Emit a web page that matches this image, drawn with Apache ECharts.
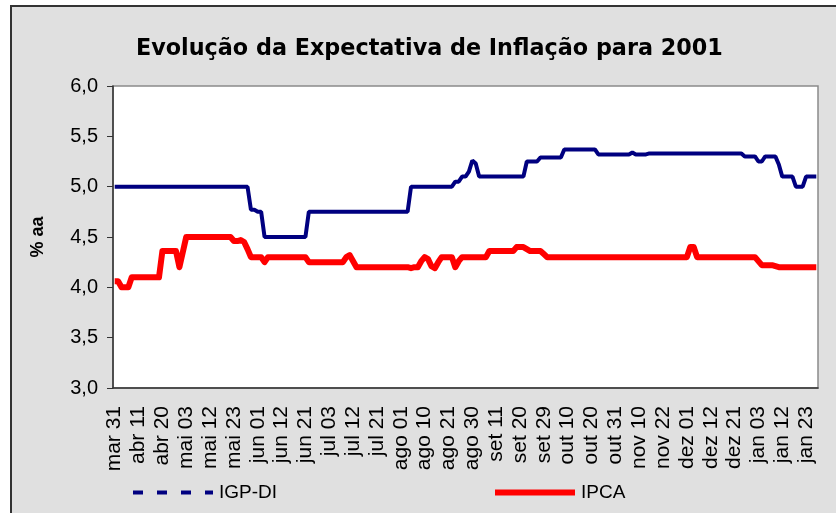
<!DOCTYPE html>
<html>
<head>
<meta charset="utf-8">
<title>Evolução da Expectativa de Inflação para 2001</title>
<script src="https://cdn.jsdelivr.net/npm/echarts@6/dist/echarts.min.js"></script>
<style>
  html, body { margin: 0; padding: 0; background: #fff; overflow: hidden; }
  #frame { position: absolute; left: 10px; top: 5px; width: 900px; height: 600px;
           background: #e0e0e0; border-left: 2px solid #333; border-top: 2px solid #333; }
  #chart { position: absolute; left: 0; top: 0; width: 836px; height: 513px; }
</style>
</head>
<body>
<div id="frame"></div>
<div id="chart"></div>
<script>
// one label every 7 business days, mar 31 2000 .. jan 26 2001 (207 points)
var tickLabels = ["mar 31", "abr 11", "abr 20", "mai 03", "mai 12", "mai 23", "jun 01", "jun 12",
  "jun 21", "jul 03", "jul 12", "jul 21", "ago 01", "ago 10", "ago 21", "ago 30", "set 11",
  "set 20", "set 29", "out 10", "out 20", "out 31", "nov 10", "nov 22", "dez 01", "dez 12",
  "dez 21", "jan 03", "jan 12", "jan 23"];
var pointCount = 207;

var igpdi = [
  5.0, 5.0, 5.0, 5.0, 5.0, 5.0, 5.0, 5.0, 5.0, 5.0,
  5.0, 5.0, 5.0, 5.0, 5.0, 5.0, 5.0, 5.0, 5.0, 5.0,
  5.0, 5.0, 5.0, 5.0, 5.0, 5.0, 5.0, 5.0, 5.0, 5.0,
  5.0, 5.0, 5.0, 5.0, 5.0, 5.0, 5.0, 5.0, 5.0, 5.0,
  4.77, 4.77, 4.75, 4.75, 4.5, 4.5, 4.5, 4.5, 4.5, 4.5,
  4.5, 4.5, 4.5, 4.5, 4.5, 4.5, 4.5, 4.75, 4.75, 4.75,
  4.75, 4.75, 4.75, 4.75, 4.75, 4.75, 4.75, 4.75, 4.75, 4.75,
  4.75, 4.75, 4.75, 4.75, 4.75, 4.75, 4.75, 4.75, 4.75, 4.75,
  4.75, 4.75, 4.75, 4.75, 4.75, 4.75, 4.75, 5.0, 5.0, 5.0,
  5.0, 5.0, 5.0, 5.0, 5.0, 5.0, 5.0, 5.0, 5.0, 5.0,
  5.05, 5.05, 5.1, 5.1, 5.15, 5.26, 5.23, 5.1, 5.1, 5.1,
  5.1, 5.1, 5.1, 5.1, 5.1, 5.1, 5.1, 5.1, 5.1, 5.1,
  5.1, 5.25, 5.25, 5.25, 5.25, 5.29, 5.29, 5.29, 5.29, 5.29,
  5.29, 5.29, 5.37, 5.37, 5.37, 5.37, 5.37, 5.37, 5.37, 5.37,
  5.37, 5.37, 5.32, 5.32, 5.32, 5.32, 5.32, 5.32, 5.32, 5.32,
  5.32, 5.32, 5.34, 5.32, 5.32, 5.32, 5.32, 5.33, 5.33, 5.33,
  5.33, 5.33, 5.33, 5.33, 5.33, 5.33, 5.33, 5.33, 5.33, 5.33,
  5.33, 5.33, 5.33, 5.33, 5.33, 5.33, 5.33, 5.33, 5.33, 5.33,
  5.33, 5.33, 5.33, 5.33, 5.33, 5.3, 5.3, 5.3, 5.3, 5.25,
  5.25, 5.3, 5.3, 5.3, 5.3, 5.22, 5.1, 5.1, 5.1, 5.1,
  5.0, 5.0, 5.0, 5.1, 5.1, 5.1, 5.1
];

var ipca = [
  4.06, 4.06, 4.0, 4.0, 4.0, 4.1, 4.1, 4.1, 4.1, 4.1,
  4.1, 4.1, 4.1, 4.1, 4.36, 4.36, 4.36, 4.36, 4.36, 4.2,
  4.35, 4.5, 4.5, 4.5, 4.5, 4.5, 4.5, 4.5, 4.5, 4.5,
  4.5, 4.5, 4.5, 4.5, 4.5, 4.46, 4.46, 4.47, 4.45, 4.38,
  4.3, 4.3, 4.3, 4.3, 4.25, 4.3, 4.3, 4.3, 4.3, 4.3,
  4.3, 4.3, 4.3, 4.3, 4.3, 4.3, 4.3, 4.25, 4.25, 4.25,
  4.25, 4.25, 4.25, 4.25, 4.25, 4.25, 4.25, 4.25, 4.3, 4.32,
  4.26, 4.2, 4.2, 4.2, 4.2, 4.2, 4.2, 4.2, 4.2, 4.2,
  4.2, 4.2, 4.2, 4.2, 4.2, 4.2, 4.2, 4.19, 4.2, 4.2,
  4.26, 4.3, 4.28, 4.21, 4.19, 4.25, 4.3, 4.3, 4.3, 4.3,
  4.2, 4.26, 4.3, 4.3, 4.3, 4.3, 4.3, 4.3, 4.3, 4.3,
  4.36, 4.36, 4.36, 4.36, 4.36, 4.36, 4.36, 4.36, 4.4, 4.4,
  4.4, 4.38, 4.36, 4.36, 4.36, 4.36, 4.33, 4.3, 4.3, 4.3,
  4.3, 4.3, 4.3, 4.3, 4.3, 4.3, 4.3, 4.3, 4.3, 4.3,
  4.3, 4.3, 4.3, 4.3, 4.3, 4.3, 4.3, 4.3, 4.3, 4.3,
  4.3, 4.3, 4.3, 4.3, 4.3, 4.3, 4.3, 4.3, 4.3, 4.3,
  4.3, 4.3, 4.3, 4.3, 4.3, 4.3, 4.3, 4.3, 4.3, 4.4,
  4.4, 4.3, 4.3, 4.3, 4.3, 4.3, 4.3, 4.3, 4.3, 4.3,
  4.3, 4.3, 4.3, 4.3, 4.3, 4.3, 4.3, 4.3, 4.3, 4.26,
  4.22, 4.22, 4.22, 4.22, 4.21, 4.2, 4.2, 4.2, 4.2, 4.2,
  4.2, 4.2, 4.2, 4.2, 4.2, 4.2, 4.2
];

// category axis: labelled day, then six unlabelled days
var categories = [];
tickLabels.forEach(function (l) {
  categories.push(l, "", "", "", "", "", "");
});
categories = categories.slice(0, pointCount);

var sans = "'Liberation Sans', Arial, sans-serif";

var legendBase = {
  top: 483, padding: 0,
  itemWidth: 80, itemHeight: 14, itemGap: 0,
  itemStyle: { opacity: 0 },
  textStyle: { fontFamily: sans, fontSize: 19, color: "#000", padding: [0, 0, 0, 1] }
};

var chart = echarts.init(document.getElementById("chart"));
chart.setOption({
  animation: false,
  backgroundColor: "transparent",
  title: {
    text: "Evolução da Expectativa de Inflação para 2001",
    left: 131,
    top: 33,
    textStyle: { fontFamily: "'DejaVu Sans'", fontWeight: "bold", fontSize: 22.3, color: "#000" }
  },
  grid: {
    left: 113, right: 18, top: 86, bottom: 125,
    show: true, backgroundColor: "#fff", borderColor: "#8a8a8a", borderWidth: 1.5,
    outerBoundsMode: "none"
  },
  legend: [
    Object.assign({}, legendBase, {
      data: ["IGP-DI"], left: 131,
      lineStyle: { type: [10, 14], width: 4 }
    }),
    Object.assign({}, legendBase, {
      data: ["IPCA"], left: 492,
      lineStyle: { width: 6 }
    })
  ],
  xAxis: {
    type: "category",
    data: categories,
    boundaryGap: true,
    axisLine: { lineStyle: { color: "#333", width: 1.5 } },
    axisTick: { interval: 4, length: 6, lineStyle: { color: "#333" } },
    axisLabel: {
      interval: 6, rotate: 90, margin: 18,
      fontFamily: sans, fontSize: 21, color: "#000"
    },
    splitLine: { show: false }
  },
  yAxis: {
    type: "value",
    min: 3, max: 6, interval: 0.5,
    name: "% aa",
    nameLocation: "middle",
    nameRotate: 90,
    nameGap: 66,
    nameTextStyle: { fontFamily: sans, fontWeight: "bold", fontSize: 18, color: "#000" },
    axisLine: { show: true, lineStyle: { color: "#333", width: 1.5 } },
    axisTick: { show: true, length: 6, lineStyle: { color: "#333" } },
    axisLabel: {
      margin: 15, fontFamily: sans, fontSize: 20, color: "#000",
      formatter: function (v) { return v.toFixed(1).replace(".", ","); }
    },
    splitLine: { show: false }
  },
  series: [
    {
      name: "IGP-DI",
      type: "line",
      data: igpdi,
      symbol: "none",
      color: "#000080",
      lineStyle: { color: "#000080", width: 4 }
    },
    {
      name: "IPCA",
      type: "line",
      data: ipca,
      symbol: "none",
      color: "#ff0000",
      lineStyle: { color: "#ff0000", width: 6, join: "round" }
    }
  ]
});
</script>
</body>
</html>
